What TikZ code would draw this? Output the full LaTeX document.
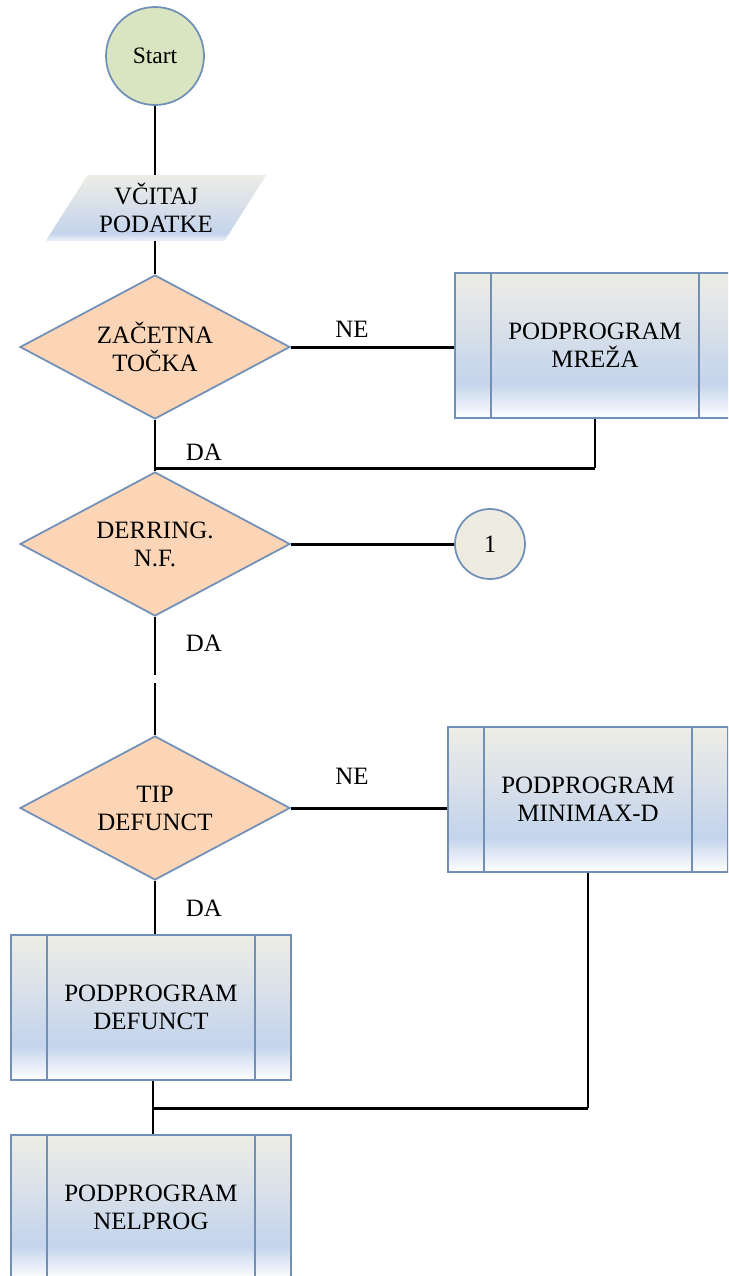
\documentclass[tikz,border=0pt]{standalone}
\usepackage{fontspec}
\setmainfont{Liberation Serif}
\usetikzlibrary{shapes.geometric}
\definecolor{edgeblue}{HTML}{7090B8}
\definecolor{startgreen}{HTML}{D9E5C0}
\definecolor{askpeach}{HTML}{FBD5B5}
\definecolor{linkcream}{HTML}{EEECE1}
\definecolor{boxtop}{HTML}{EEEDE6}
\definecolor{boxblue}{HTML}{C4D4EC}
\pgfdeclareverticalshading{subshade}{100bp}{color(0bp)=(white); color(25bp)=(white); color(37bp)=(boxblue); color(75bp)=(boxtop); color(100bp)=(boxtop)}
\pgfdeclareverticalshading{readshade}{100bp}{color(0bp)=(white); color(25bp)=(white!70!boxblue); color(31bp)=(boxblue); color(75bp)=(boxtop); color(100bp)=(boxtop)}
\begin{document}
\begin{tikzpicture}[x=0.02cm,y=-0.02cm]

    \tikzset{
      txt/.style={font=\fontsize{14.2}{16}\selectfont, align=center},
      lbl/.style={txt, inner sep=0pt},
      link/.style={draw=black, line width=1.1pt},
      hlink/.style={draw=black, line width=1.7pt},
      startnode/.style={circle, draw=edgeblue, line width=1pt, fill=startgreen,
        minimum size=1.96cm, inner sep=0pt, font=\fontsize{13.4}{15}\selectfont},
      readnode/.style={txt, trapezium, trapezium left angle=56, trapezium right angle=124,
        trapezium stretches=true, minimum width=4.42cm, minimum height=1.32cm,
        inner sep=1pt, shade, shading=readshade},
      asknode/.style={txt, diamond, aspect=1.9, draw=edgeblue, line width=1pt, fill=askpeach,
        minimum width=5.4cm, minimum height=2.88cm, inner sep=1pt},
      linknode/.style={txt, circle, draw=edgeblue, line width=1pt, fill=linkcream,
        minimum size=1.4cm, inner sep=0pt},
      subprog/.style={txt, rectangle, draw=edgeblue, line width=0.9pt,
        minimum width=5.6cm, minimum height=2.9cm, shade, shading=subshade,
        path picture={
          \draw[edgeblue, line width=0.9pt]
            ([xshift=0.72cm]path picture bounding box.north west) --
            ([xshift=0.72cm]path picture bounding box.south west);
          \draw[edgeblue, line width=0.9pt]
            ([xshift=-0.72cm]path picture bounding box.north east) --
            ([xshift=-0.72cm]path picture bounding box.south east);
        }},
    }
    \useasboundingbox (0,0) rectangle (728,1276);
    \clip (0,0) rectangle (728,1276);

	\node[startnode] (start) at (155,56) {Start};
	\node[readnode] (read) at (156,208) {VČITAJ\\PODATKE};
	\node[asknode] (tocka) at (155,347) {ZAČETNA\\TOČKA};
	\node[subprog] (mreza) at (595,345.5) {PODPROGRAM\\MREŽA};
	\node[asknode] (derring) at (155,544) {DERRING.\\N.F.};
	\node[linknode] (one) at (490,544) {1};
	\node[asknode] (tip) at (155,808) {TIP\\DEFUNCT};
	\node[subprog] (minimax) at (588,799.5) {PODPROGRAM\\MINIMAX-D};
	\node[subprog] (defunct) at (151,1007.5) {PODPROGRAM\\DEFUNCT};
	\node[subprog] (nelprog) at (151,1207.5) {PODPROGRAM\\NELPROG};

	\node[lbl] (ne1) at (352,329) {NE};
	\node[lbl] (da1) at (204,452) {DA};
	\node[lbl] (da2) at (204,643) {DA};
	\node[lbl] (ne2) at (352,776) {NE};
	\node[lbl] (da3) at (204,908) {DA};

	\coordinate (joinA) at (155,468);
	\coordinate (gapA) at (155,675);
	\coordinate (gapB) at (155,683);
	\coordinate (joinB) at (153,1108);

	\draw[link] (start.south)--(start.south |- read.north);
	\draw[link] (tocka.north |- read.south)--(tocka.north);
	\draw[hlink] (tocka.east)--(tocka.east -| mreza.west);
	\draw[link] (tocka.south)--(derring.north);
	\draw[link] (mreza.south)--(mreza.south |- joinA);
	\draw[hlink] (mreza.south |- joinA)--(joinA);
	\draw[hlink] (derring.east)--(one.west);
	\draw[link] (derring.south)--(gapA);
	\draw[link] (gapB)--(tip.north);
	\draw[hlink] (tip.east)--(tip.east -| minimax.west);
	\draw[link] (tip.south)--(tip.south |- defunct.north);
	\draw[link] (joinB |- defunct.south)--(joinB |- nelprog.north);
	\draw[link] (minimax.south)--(minimax.south |- joinB);
	\draw[hlink] (minimax.south |- joinB)--(joinB);

\end{tikzpicture}
\end{document}
